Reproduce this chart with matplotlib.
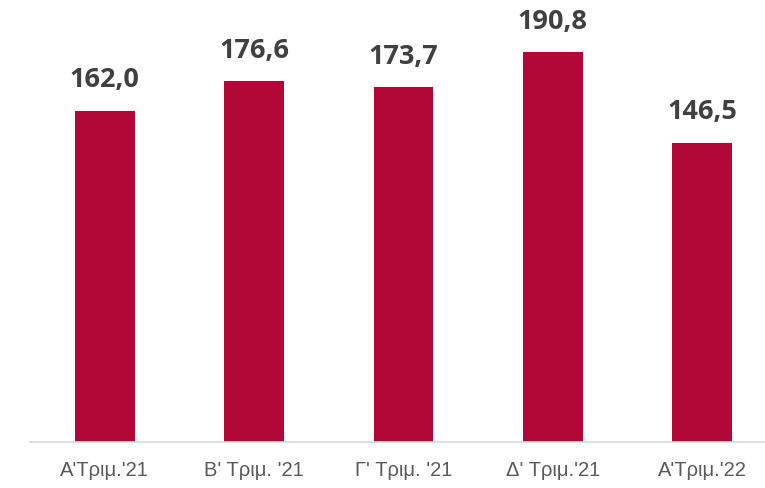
import matplotlib.pyplot as plt

categories = ["A'Τριμ.'21", "B' Τριμ. '21", "Γ' Τριμ. '21", "Δ' Τριμ.'21", "A'Τριμ.'22"]
values = [162.0, 176.6, 173.7, 190.8, 146.5]
value_labels = ["162,0", "176,6", "173,7", "190,8", "146,5"]

fig = plt.figure(figsize=(7.65, 4.89), dpi=100)
ax = fig.add_axes([30 / 765, 46 / 489, 747 / 765, 443 / 489])

x = range(len(categories))
bars = ax.bar(x, values, width=0.4, color="#B20838")

for xi, v, lab in zip(x, values, value_labels):
    ax.text(xi, v + 9, lab, ha="center", va="bottom", fontsize=19.5,
            fontweight="bold", color="#404040", family="Open Sans")

ax.set_xlim(-0.5, 4.5)
ax.set_ylim(0, 216.7)
ax.set_xticks(list(x))
ax.set_xticklabels(categories, fontsize=14.5, color="#595959", family="Liberation Sans")
ax.tick_params(axis="x", length=0, pad=13)
ax.set_yticks([])
for s in ["top", "right", "left"]:
    ax.spines[s].set_visible(False)
ax.spines["bottom"].set_color("#D9D9D9")
ax.spines["bottom"].set_linewidth(1.2)

fig.savefig("out.png", dpi=100)
